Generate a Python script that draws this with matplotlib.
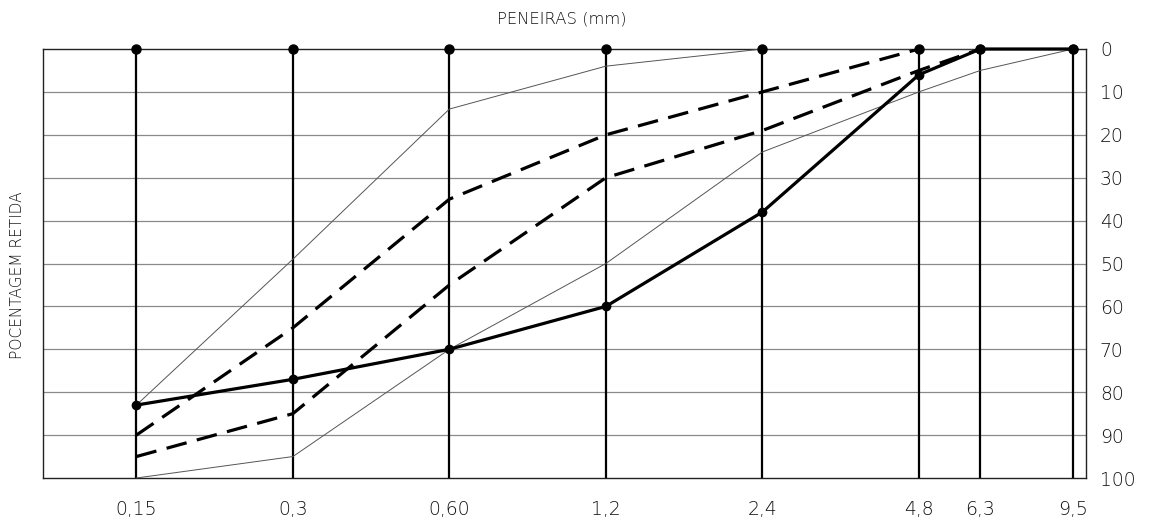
import matplotlib
matplotlib.use("Agg")
import matplotlib.pyplot as plt
from matplotlib.ticker import FixedLocator, NullLocator

plt.rcParams['font.family'] = ['DejaVu Sans']

sieves = [0.15, 0.3, 0.6, 1.2, 2.4, 4.8, 6.3, 9.5]
sieve_labels = ['0,15', '0,3', '0,60', '1,2', '2,4', '4,8', '6,3', '9,5']

sample = [83, 77, 70, 60, 38, 6, 0, 0]
opt_lower = [90, 65, 35, 20, 10, 0, 0, 0]
opt_upper = [95, 85, 55, 30, 19, 5, 0, 0]
util_lower = [83, 49, 14, 4, 0, 0, 0, 0]
util_upper = [100, 95, 70, 50, 24, 10, 5, 0]

y_ticks = [0, 10, 20, 30, 40, 50, 60, 70, 80, 90, 100]

fig = plt.figure(figsize=(11.52, 5.25), dpi=100)
ax = fig.add_axes([43/1152, 1 - 478/525, (1086-43)/1152, (478-49)/525])

ax.set_xscale('log')
ax.set_xlim(0.0992, 10.06)
ax.set_ylim(100, 0)

# horizontal grid
for yv in y_ticks[1:-1]:
    ax.axhline(yv, color='#8a8a8a', lw=0.9, zorder=1)

# vertical sieve lines with top dots
for s in sieves:
    ax.plot([s, s], [0, 100], color='black', lw=1.6, zorder=2, solid_capstyle='butt')
ax.plot(sieves, [0]*len(sieves), 'o', color='black', ms=6.5, zorder=6, clip_on=False)

# thin limit lines
ax.plot(sieves, util_lower, color='#555555', lw=0.7, zorder=3)
ax.plot(sieves, util_upper, color='#555555', lw=0.7, zorder=3)

# dashed optimal limits
ax.plot(sieves[:6], opt_lower[:6], color='black', lw=2.3, dashes=(6.5, 3.3), zorder=4)
ax.plot(sieves[:7], opt_upper[:7], color='black', lw=2.3, dashes=(6.5, 3.3), zorder=4)

# sample curve
ax.plot(sieves, sample, color='black', lw=2.3, marker='o', ms=6, zorder=5, clip_on=False)

for sp in ax.spines.values():
    sp.set_color('#222222')
    sp.set_linewidth(1.0)

ax.xaxis.set_major_locator(FixedLocator(sieves))
ax.xaxis.set_minor_locator(NullLocator())
ax.set_xticklabels(sieve_labels)
ax.yaxis.set_major_locator(FixedLocator(y_ticks))
ax.yaxis.set_minor_locator(NullLocator())
ax.set_yticklabels([str(v) for v in y_ticks])
ax.yaxis.tick_right()
ax.tick_params(axis='x', length=0, pad=16, labelsize=13.5, labelcolor='#111111')
ax.tick_params(axis='y', length=0, pad=10, labelsize=13.5, labelcolor='#111111')
for lbl in ax.get_xticklabels() + ax.get_yticklabels():
    lbl.set_fontweight('light')
for lbl in ax.get_yticklabels():
    lbl.set_horizontalalignment('left')

fig.text(562/1152, 1 - 19/525, 'PENEIRAS (mm)', ha='center', va='center',
         fontsize=11.8, color='#111111', fontweight='light')
fig.text(18/1152, 1 - 275/525, 'POCENTAGEM RETIDA', ha='center', va='center',
         rotation=90, fontsize=11.1, color='#111111', fontweight='light')

fig.savefig('out.png', dpi=100, facecolor='white')
